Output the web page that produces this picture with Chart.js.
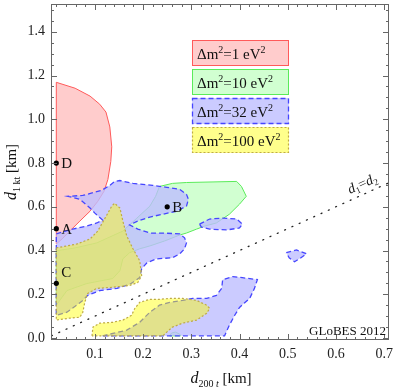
<!DOCTYPE html>
<html>
<head>
<meta charset="utf-8">
<script src="https://cdn.jsdelivr.net/npm/chart.js"></script>
<style>
  html, body { margin: 0; padding: 0; background: #fff; }
</style>
</head>
<body>
<canvas id="contour-chart" width="393" height="389"></canvas>
<script>
// regions: d200t (km) vs d1kt (km)
var red1X = [0.02, 0.059, 0.090, 0.110, 0.123, 0.131, 0.135, 0.133, 0.127, 0.119, 0.106, 0.090, 0.069, 0.048, 0.032, 0.02];
var red1Y = [1.169, 1.142, 1.106, 1.069, 1.033, 0.965, 0.874, 0.807, 0.725, 0.671, 0.625, 0.580, 0.535, 0.489, 0.453, 0.430];

var green1X = [0.234, 0.261, 0.290, 0.394, 0.404, 0.414, 0.400, 0.379, 0.352, 0.328, 0.311, 0.290, 0.276, 0.245, 0.214, 0.193, 0.172, 0.158, 0.152, 0.137, 0.083, 0.042, 0.02, 0.02, 0.059, 0.104, 0.158, 0.187, 0.214, 0.226];
var green1Y = [0.693, 0.707, 0.711, 0.716, 0.693, 0.648, 0.612, 0.566, 0.526, 0.512, 0.498, 0.480, 0.471, 0.444, 0.421, 0.408, 0.390, 0.362, 0.308, 0.272, 0.249, 0.217, 0.150, 0.399, 0.412, 0.435, 0.489, 0.548, 0.603, 0.648];
var green2X = [0.255, 0.259, 0.267, 0.276, 0.278];
var green2Y = [0.01, 0.023, 0.027, 0.018, 0.01];

var blue1X = [0.02, 0.054, 0.083, 0.104, 0.116, 0.100, 0.090, 0.069, 0.044, 0.075, 0.114, 0.131, 0.141, 0.152, 0.179, 0.220, 0.249, 0.276, 0.290, 0.294, 0.290, 0.270, 0.241, 0.214, 0.189, 0.172, 0.189, 0.214, 0.241, 0.276, 0.286, 0.290, 0.286, 0.276, 0.261, 0.228, 0.208, 0.197, 0.193, 0.172, 0.146, 0.110, 0.085, 0.075, 0.059, 0.042, 0.02];
var blue1Y = [0.476, 0.498, 0.512, 0.526, 0.539, 0.571, 0.594, 0.634, 0.648, 0.652, 0.675, 0.698, 0.716, 0.720, 0.707, 0.698, 0.689, 0.680, 0.657, 0.634, 0.603, 0.580, 0.566, 0.553, 0.535, 0.517, 0.498, 0.480, 0.480, 0.476, 0.458, 0.435, 0.408, 0.385, 0.367, 0.362, 0.344, 0.317, 0.276, 0.245, 0.227, 0.217, 0.195, 0.172, 0.145, 0.118, 0.104];
var blue2X = [0.317, 0.338, 0.365, 0.394, 0.406, 0.400, 0.373, 0.338, 0.321];
var blue2Y = [0.521, 0.544, 0.548, 0.544, 0.521, 0.503, 0.494, 0.498, 0.507];
var blue3X = [0.497, 0.518, 0.539, 0.524, 0.514, 0.503];
var blue3Y = [0.390, 0.403, 0.385, 0.362, 0.349, 0.367];
var blue4X = [0.116, 0.166, 0.193, 0.214, 0.234, 0.255, 0.282, 0.303, 0.332, 0.352, 0.363, 0.365, 0.386, 0.406, 0.437, 0.431, 0.421, 0.400, 0.390, 0.379, 0.369];
var blue4Y = [0.01, 0.036, 0.072, 0.118, 0.150, 0.163, 0.172, 0.181, 0.181, 0.195, 0.227, 0.267, 0.281, 0.276, 0.267, 0.227, 0.181, 0.140, 0.104, 0.059, 0.01];

var yellow1X = [0.02, 0.063, 0.090, 0.106, 0.121, 0.135, 0.141, 0.152, 0.158, 0.166, 0.179, 0.193, 0.197, 0.189, 0.172, 0.131, 0.104, 0.085, 0.079, 0.075, 0.069, 0.048, 0.02];
var yellow1Y = [0.412, 0.430, 0.453, 0.489, 0.548, 0.603, 0.616, 0.594, 0.535, 0.467, 0.408, 0.353, 0.285, 0.254, 0.240, 0.231, 0.227, 0.204, 0.163, 0.118, 0.095, 0.091, 0.082];
var yellow2X = [0.094, 0.096, 0.110, 0.137, 0.158, 0.176, 0.183, 0.193, 0.214, 0.234, 0.255, 0.282, 0.311, 0.332, 0.338, 0.332, 0.311, 0.282, 0.261, 0.249, 0.241];
var yellow2Y = [0.01, 0.050, 0.068, 0.072, 0.082, 0.104, 0.136, 0.163, 0.177, 0.177, 0.181, 0.181, 0.172, 0.150, 0.136, 0.113, 0.082, 0.068, 0.050, 0.027, 0.01];

var dm2Values = ['1', '10', '32', '100'];
var pointNames = ['A', 'B', 'C', 'D'];
var pointX = [0.02, 0.25, 0.02, 0.02];
var pointY = [0.5, 0.6, 0.25, 0.8];
var diagX = [0.01, 0.71];
var xTicks = [0.1, 0.2, 0.3, 0.4, 0.5, 0.6, 0.7];
var yTicks = [0, 0.2, 0.4, 0.6, 0.8, 1.0, 1.2, 1.4];

var SERIF = "'Liberation Serif', 'DejaVu Serif', serif";

var styles = [
    { fill: 'rgba(255,0,0,0.2)', line: 'rgb(255,90,90)', dash: [], width: 1 },
    { fill: 'rgba(0,255,0,0.18)', line: 'rgb(90,235,90)', dash: [], width: 1 },
    { fill: 'rgba(190,190,255,0.8)', line: 'rgb(70,70,255)', dash: [5, 3], width: 1.3 },
    { fill: 'rgba(255,255,0,0.45)', line: 'rgb(190,170,70)', dash: [2, 2], width: 1.2 }
];

function toPoints(xs, ys) {
    var pts = xs.map(function(x, i) { return { x: x, y: ys[i] }; });
    pts.push({ x: xs[0], y: ys[0] });
    return pts;
}

function region(xs, ys, s, order) {
    return {
        data: toPoints(xs, ys),
        backgroundColor: s.fill,
        borderColor: s.line,
        borderWidth: s.width,
        borderDash: s.dash,
        fill: 'shape',
        pointRadius: 0,
        tension: 0,
        order: order
    };
}

function drawParts(ctx, parts, x, y) {
    parts.forEach(function(p) {
        ctx.font = p.font;
        ctx.fillText(p.text, x, y + (p.dy || 0));
        x += ctx.measureText(p.text).width;
    });
}

function partsWidth(ctx, parts) {
    var w = 0;
    parts.forEach(function(p) { ctx.font = p.font; w += ctx.measureText(p.text).width; });
    return w;
}

var decoPlugin = {
    id: 'deco',
    afterDraw: function(chart) {
        var ctx = chart.ctx, a = chart.chartArea, xs = chart.scales.x, ys = chart.scales.y;
        ctx.save();
        // frame and inward ticks
        ctx.strokeStyle = '#666';
        ctx.lineWidth = 1;
        ctx.setLineDash([]);
        ctx.strokeRect(a.left + 0.5, a.top + 0.5, a.right - a.left - 1, a.bottom - a.top - 1);
        ctx.beginPath();
        for (var i = 1; i <= 35; i++) {
            var px = Math.round(xs.getPixelForValue(i * 0.02)) + 0.5;
            var len = (i % 5 === 0) ? 6 : 3;
            ctx.moveTo(px, a.bottom); ctx.lineTo(px, a.bottom - len);
            ctx.moveTo(px, a.top); ctx.lineTo(px, a.top + len);
        }
        for (var j = 0; j <= 30; j++) {
            var py = Math.round(ys.getPixelForValue(j * 0.05)) + 0.5;
            if (py < a.top) continue;
            var l2 = (j % 4 === 0) ? 6 : 3;
            ctx.moveTo(a.left, py); ctx.lineTo(a.left + l2, py);
            ctx.moveTo(a.right, py); ctx.lineTo(a.right - l2, py);
        }
        ctx.stroke();

        // legend
        var f15 = '15px ' + SERIF, f10 = '10px ' + SERIF;
        dm2Values.forEach(function(v, k) {
            var s = styles[k], top = 40 + k * 29;
            ctx.fillStyle = '#fff';
            ctx.fillRect(192, top, 97, 26);
            ctx.fillStyle = s.fill;
            ctx.fillRect(192, top, 97, 26);
            ctx.strokeStyle = s.line;
            ctx.lineWidth = s.width;
            ctx.setLineDash(s.dash);
            ctx.strokeRect(192.5, top + 0.5, 96, 25);
            ctx.setLineDash([]);
            ctx.fillStyle = '#111';
            drawParts(ctx, [
                { text: 'Δm', font: f15 },
                { text: '2', font: f10, dy: -6 },
                { text: '=' + v + ' eV', font: f15 },
                { text: '2', font: f10, dy: -6 }
            ], 197, top + 19);
        });

        // point labels
        var meta = chart.getDatasetMeta(chart.data.datasets.length - 1);
        ctx.font = '15px ' + SERIF;
        ctx.fillStyle = '#111';
        meta.data.forEach(function(el, k) {
            var dy = pointNames[k] === 'C' ? -6 : 5;
            ctx.fillText(pointNames[k], el.x + 5, el.y + dy);
        });

        // d1 = d2 label
        ctx.save();
        ctx.translate(350, 194);
        ctx.rotate(-Math.atan2(ys.getPixelForValue(0) - ys.getPixelForValue(1), xs.getPixelForValue(1) - xs.getPixelForValue(0)));
        drawParts(ctx, [
            { text: 'd', font: 'italic 14px ' + SERIF },
            { text: '1', font: '9px ' + SERIF, dy: 3 },
            { text: '=', font: '14px ' + SERIF },
            { text: 'd', font: 'italic 14px ' + SERIF },
            { text: '2', font: '9px ' + SERIF, dy: 3 }
        ], 0, 0);
        ctx.restore();

        // watermark
        ctx.font = '13px ' + SERIF;
        ctx.textAlign = 'right';
        ctx.fillText('GLoBES 2012', a.right - 3, a.bottom - 5);
        ctx.textAlign = 'left';

        // axis titles
        var xt = [
            { text: 'd', font: 'italic 16px ' + SERIF },
            { text: '200', font: '10px ' + SERIF, dy: 4 },
            { text: ' t', font: 'italic 10px ' + SERIF, dy: 4 },
            { text: ' [km]', font: '15px ' + SERIF }
        ];
        drawParts(ctx, xt, 221 - partsWidth(ctx, xt) / 2, 383);
        var yt = [
            { text: 'd', font: 'italic 16px ' + SERIF },
            { text: '1 kt', font: '10px ' + SERIF, dy: 4 },
            { text: ' [km]', font: '15px ' + SERIF }
        ];
        ctx.translate(16, 172);
        ctx.rotate(-Math.PI / 2);
        drawParts(ctx, yt, -partsWidth(ctx, yt) / 2, 0);
        ctx.restore();
    }
};

document.addEventListener("DOMContentLoaded", function() {
    var ctx = document.getElementById('contour-chart').getContext('2d');
    var datasets = [
        region(red1X, red1Y, styles[0], 6),
        region(green1X, green1Y, styles[1], 5),
        region(green2X, green2Y, styles[1], 5),
        region(blue1X, blue1Y, styles[2], 4),
        region(blue2X, blue2Y, styles[2], 4),
        region(blue3X, blue3Y, styles[2], 4),
        region(blue4X, blue4Y, styles[2], 4),
        region(yellow1X, yellow1Y, styles[3], 3),
        region(yellow2X, yellow2Y, styles[3], 3),
        {
            data: diagX.map(function(v) { return { x: v, y: v }; }),
            borderColor: '#222',
            borderWidth: 1.3,
            borderDash: [1, 7],
            borderCapStyle: 'round',
            pointRadius: 0,
            fill: false,
            order: 2
        },
        {
            data: pointX.map(function(x, i) { return { x: x, y: pointY[i] }; }),
            showLine: false,
            pointRadius: 2.6,
            pointBackgroundColor: '#000',
            pointBorderWidth: 0,
            order: 1
        }
    ];

    var tickFont = { family: SERIF, size: 14 };
    new Chart(ctx, {
        type: 'line',
        data: { datasets: datasets },
        options: {
            responsive: false,
            animation: false,
            layout: { padding: { top: 1, right: 3, bottom: 0, left: 0 } },
            plugins: { legend: { display: false }, tooltip: { enabled: false } },
            scales: {
                x: {
                    type: 'linear', min: 0.009, max: 0.71,
                    grid: { display: false, drawTicks: false },
                    border: { display: false },
                    afterBuildTicks: function(s) { s.ticks = xTicks.map(function(v) { return { value: v }; }); },
                    afterFit: function(s) { s.height = 49; s.paddingLeft = 0; s.paddingRight = 0; },
                    ticks: { font: tickFont, color: '#222', padding: 6, maxRotation: 0,
                        callback: function(v) { return v.toFixed(1); } }
                },
                y: {
                    type: 'linear', min: -0.009, max: 1.527,
                    grid: { display: false, drawTicks: false },
                    border: { display: false },
                    afterBuildTicks: function(s) { s.ticks = yTicks.map(function(v) { return { value: v }; }); },
                    afterFit: function(s) { s.width = 51; s.paddingTop = 0; s.paddingBottom = 0; },
                    ticks: { font: tickFont, color: '#222', padding: 6,
                        callback: function(v) { return v.toFixed(1); } }
                }
            }
        },
        plugins: [decoPlugin]
    });
});
</script>
</body>
</html>
